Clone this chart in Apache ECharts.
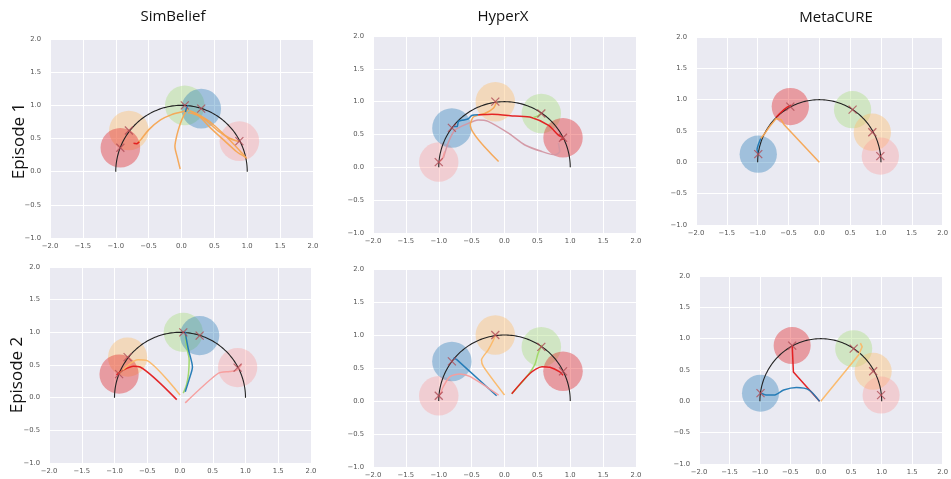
<!DOCTYPE html>
<html><head><meta charset="utf-8">
<script src="https://cdn.jsdelivr.net/npm/echarts@6/dist/echarts.min.js"></script>
<style>html,body{margin:0;padding:0;background:#fff}#c{width:951px;height:479px}</style>
</head><body><div id="c"></div>
<script>
// ---------- text ----------
const methodTitles = ['SimBelief', 'HyperX', 'MetaCURE'];
const rowLabels = ['Episode 1', 'Episode 2'];

// ---------- axes ----------
const xRange = [-2, 2];
const yRange = [-1, 2];
const tickStep = 0.5;

// ---------- reference semicircle (centre x, centre y, radius) ----------
const arcCircle = [0, 0, 1];
const goalRadius = 0.3;

// ---------- goals (centre of each circle / x marker) ----------
const simBeliefGoals = [[-0.80, 0.62], [-0.93, 0.36], [0.05, 1.00], [0.30, 0.95], [0.88, 0.46]];
const simBeliefGoalColors = ['orange', 'red', 'green', 'blue', 'pink'];
const hyperXGoals = [[-1.00, 0.08], [-0.80, 0.60], [-0.14, 1.00], [0.56, 0.82], [0.89, 0.45]];
const hyperXGoalColors = ['pink', 'blue', 'orange', 'green', 'red'];
const metaCureGoals = [[-0.99, 0.13], [-0.47, 0.89], [0.54, 0.84], [0.86, 0.48], [0.99, 0.10]];
const metaCureGoalColors = ['blue', 'red', 'green', 'orange', 'pink'];

// ---------- trajectories: SimBelief, episode 1 ----------
const sb1OrangeA = [[-0.02, 0.04], [-0.06, 0.20], [-0.10, 0.38], [-0.07, 0.55], [-0.02, 0.72], [0.04, 0.86], [0.09, 0.95]];
const sb1OrangeB = [[0.10, 0.93], [0.00, 0.90], [-0.15, 0.86], [-0.32, 0.78], [-0.50, 0.63], [-0.62, 0.48], [-0.67, 0.43]];
const sb1Red = [[-0.64, 0.45], [-0.68, 0.42], [-0.73, 0.43]];
const sb1OrangeC = [[0.12, 0.92], [0.24, 0.87], [0.46, 0.73], [0.71, 0.50], [0.92, 0.28], [0.99, 0.20]];
const sb1OrangeD = [[0.10, 0.89], [0.26, 0.84], [0.44, 0.66], [0.66, 0.46], [0.84, 0.30], [0.97, 0.22]];
const sb1OrangeE = [[0.14, 0.91], [0.34, 0.80], [0.55, 0.62], [0.74, 0.50], [0.88, 0.45]];
const sb1Blue = [[0.06, 0.90], [0.08, 0.97], [0.10, 1.00]];

// ---------- trajectories: HyperX, episode 1 ----------
const hx1Orange = [[-0.09, 0.09], [-0.52, 0.64], [-0.47, 0.77], [-0.30, 0.82], [-0.17, 0.90], [-0.12, 1.00]];
const hx1Blue = [[-0.78, 0.62], [-0.72, 0.62], [-0.70, 0.70], [-0.62, 0.72], [-0.55, 0.74], [-0.50, 0.79], [-0.40, 0.80]];
const hx1Red = [[-0.40, 0.80], [-0.19, 0.81], [0.16, 0.78], [0.41, 0.76], [0.67, 0.64], [0.82, 0.49], [0.90, 0.44], [0.85, 0.42]];
const hx1Mauve = [[-0.93, 0.14], [-0.85, 0.39], [-0.75, 0.57], [-0.55, 0.67], [-0.40, 0.72], [-0.25, 0.70], [0.06, 0.52], [0.31, 0.34], [0.57, 0.24], [0.77, 0.19], [0.84, 0.24], [0.82, 0.37]];
const hx1Pink = [[-1.00, 0.08], [-0.95, 0.12], [-0.91, 0.24]];
const hx1Green = [[0.44, 0.76], [0.50, 0.78], [0.55, 0.82]];

// ---------- trajectories: MetaCURE, episode 1 ----------
const mc1Orange = [[0.00, 0.00], [-0.57, 0.60], [-0.62, 0.68], [-0.70, 0.70], [-0.80, 0.58], [-0.90, 0.44], [-0.95, 0.38]];
const mc1Red = [[-0.70, 0.72], [-0.62, 0.80], [-0.52, 0.88], [-0.46, 0.91]];
const mc1Blue = [[-0.95, 0.38], [-0.99, 0.28], [-1.01, 0.20], [-0.99, 0.14]];

// ---------- trajectories: SimBelief, episode 2 ----------
const sb2Red = [[-0.05, -0.03], [-0.61, 0.47], [-0.71, 0.48], [-0.87, 0.42], [-0.97, 0.35]];
const sb2Orange = [[0.00, 0.04], [-0.51, 0.57], [-0.64, 0.58], [-0.79, 0.50], [-0.92, 0.37]];
const sb2Green = [[0.05, 0.07], [0.10, 0.20], [0.13, 0.37], [0.14, 0.58], [0.10, 0.78], [0.08, 0.96]];
const sb2Blue = [[0.08, 0.09], [0.14, 0.28], [0.19, 0.47], [0.13, 0.73], [0.10, 0.88], [0.08, 1.01]];
const sb2Pink = [[0.08, -0.08], [0.58, 0.37], [0.76, 0.40], [0.87, 0.42], [0.94, 0.51]];

// ---------- trajectories: HyperX, episode 2 ----------
const hx2Blue = [[-0.12, 0.08], [-0.73, 0.63], [-0.78, 0.65]];
const hx2Pink = [[-0.09, 0.09], [-0.52, 0.37], [-0.68, 0.41], [-0.83, 0.37], [-0.93, 0.22], [-0.98, 0.09]];
const hx2Orange = [[0.00, 0.09], [-0.32, 0.52], [-0.35, 0.62], [-0.25, 0.77], [-0.17, 0.92], [-0.14, 1.00]];
const hx2Green = [[0.11, 0.11], [0.34, 0.37], [0.46, 0.55], [0.51, 0.72], [0.57, 0.85]];
const hx2Red = [[0.11, 0.11], [0.39, 0.42], [0.57, 0.52], [0.69, 0.51], [0.84, 0.44], [0.89, 0.39]];

// ---------- trajectories: MetaCURE, episode 2 ----------
const mc2Red = [[-0.02, 0.00], [-0.45, 0.47], [-0.47, 0.90]];
const mc2Blue = [[-0.02, 0.00], [-0.19, 0.18], [-0.40, 0.22], [-0.61, 0.18], [-0.77, 0.10], [-0.90, 0.10], [-0.98, 0.13]];
const mc2Orange = [[0.00, 0.00], [0.62, 0.74], [0.68, 0.87], [0.65, 0.93]];

// ---------- styling ----------
const circleColors = { red: 'rgba(227,26,28,0.38)', orange: 'rgba(253,191,111,0.42)', green: 'rgba(178,223,138,0.45)', blue: 'rgba(31,120,180,0.36)', pink: 'rgba(251,154,153,0.36)' };
const lineColors = { red: '#e31a1c', orange: '#f6a552', lorange: '#fbb867', green: '#9ed766', blue: '#1f78b4', pink: '#f79c9b', mauve: '#d397a3' };
const markerColor = 'rgba(175,75,85,0.8)';

const gridBoxes = [
  { left: 50, top: 39, width: 263, height: 199 },
  { left: 373, top: 36, width: 263, height: 197 },
  { left: 696, top: 37, width: 254, height: 188 },
  { left: 49, top: 267, width: 262, height: 196 },
  { left: 373, top: 269, width: 263, height: 198 },
  { left: 699, top: 276, width: 253, height: 188 }
];

const panelGoals = [
  [simBeliefGoals, simBeliefGoalColors], [hyperXGoals, hyperXGoalColors], [metaCureGoals, metaCureGoalColors],
  [simBeliefGoals, simBeliefGoalColors], [hyperXGoals, hyperXGoalColors], [metaCureGoals, metaCureGoalColors]
];
// [data, colour key, smooth]
const panelPaths = [
  [[sb1OrangeA, 'orange', true], [sb1OrangeB, 'orange', true], [sb1OrangeC, 'orange', true], [sb1OrangeD, 'orange', true], [sb1OrangeE, 'orange', true], [sb1Red, 'red', false], [sb1Blue, 'blue', true]],
  [[hx1Mauve, 'mauve', true], [hx1Pink, 'pink', true], [hx1Orange, 'orange', true], [hx1Blue, 'blue', true], [hx1Red, 'red', true], [hx1Green, 'green', true]],
  [[mc1Orange, 'orange', false], [mc1Red, 'red', true], [mc1Blue, 'blue', true]],
  [[sb2Red, 'red', true], [sb2Orange, 'lorange', true], [sb2Green, 'green', true], [sb2Blue, 'blue', true], [sb2Pink, 'pink', true]],
  [[hx2Blue, 'blue', false], [hx2Pink, 'pink', true], [hx2Orange, 'lorange', true], [hx2Green, 'green', true], [hx2Red, 'red', true]],
  [[mc2Red, 'red', false], [mc2Blue, 'blue', true], [mc2Orange, 'lorange', false]]
];

const fmt = v => v.toFixed(1).replace('-', '\u2212');
const grid = [], xAxis = [], yAxis = [], series = [];
gridBoxes.forEach((b, i) => {
  grid.push(Object.assign({ show: true, backgroundColor: '#EAEAF2', borderWidth: 0, containLabel: false }, b));
  const common = {
    gridIndex: i, type: 'value', interval: tickStep,
    axisLine: { show: false }, axisTick: { show: false },
    splitLine: { show: true, lineStyle: { color: '#ffffff', width: 1 } },
    axisLabel: { fontSize: 6.8, color: '#555', fontFamily: 'DejaVu Sans', formatter: fmt, showMinLabel: true, showMaxLabel: true }
  };
  xAxis.push(Object.assign({}, common, { min: xRange[0], max: xRange[1], axisLabel: Object.assign({}, common.axisLabel, { margin: 5 }) }));
  yAxis.push(Object.assign({}, common, { min: yRange[0], max: yRange[1], axisLabel: Object.assign({}, common.axisLabel, { margin: 9 }) }));

  const [goals, gcols] = panelGoals[i];
  // goal circles
  series.push({
    type: 'custom', xAxisIndex: i, yAxisIndex: i, z: 2, silent: true,
    data: goals.map((g, k) => [g[0], g[1], k]),
    renderItem: (params, api) => {
      const c = api.coord([api.value(0), api.value(1)]);
      const s = api.size([goalRadius, goalRadius]);
      return { type: 'circle', shape: { cx: c[0], cy: c[1], r: (s[0] + s[1]) / 2 }, style: { fill: circleColors[gcols[api.value(2)]] } };
    }
  });
  // semicircle
  series.push({
    type: 'custom', xAxisIndex: i, yAxisIndex: i, z: 3, silent: true,
    data: [arcCircle],
    renderItem: (params, api) => {
      const cx = api.value(0), cy = api.value(1), r = api.value(2);
      const pts = [];
      for (let k = 0; k <= 120; k++) {
        const t = Math.PI * k / 120;
        pts.push(api.coord([cx + r * Math.cos(t), cy + r * Math.sin(t)]));
      }
      return { type: 'polyline', shape: { points: pts }, style: { stroke: '#222', lineWidth: 1.1, fill: null } };
    }
  });
  // trajectories
  panelPaths[i].forEach(([d, col, sm]) => {
    series.push({
      type: 'line', xAxisIndex: i, yAxisIndex: i, z: 4, silent: true,
      data: d, showSymbol: false, smooth: sm ? 0.25 : false,
      lineStyle: { color: lineColors[col], width: 1.5, opacity: 0.95 }
    });
  });
  // x markers
  series.push({
    type: 'custom', xAxisIndex: i, yAxisIndex: i, z: 5, silent: true,
    data: goals.map(g => [g[0], g[1]]),
    renderItem: (params, api) => {
      const c = api.coord([api.value(0), api.value(1)]);
      const h = 4;
      const st = { stroke: markerColor, lineWidth: 1.2 };
      return { type: 'group', children: [
        { type: 'line', shape: { x1: c[0] - h, y1: c[1] - h, x2: c[0] + h, y2: c[1] + h }, style: st },
        { type: 'line', shape: { x1: c[0] - h, y1: c[1] + h, x2: c[0] + h, y2: c[1] - h }, style: st }
      ] };
    }
  });
});

const titleCenters = [[173, 17], [503, 17], [836, 18]];
const rowCenters = [[19, 141], [17, 375]];
const graphic = [];
methodTitles.forEach((t, i) => graphic.push({
  type: 'text', x: titleCenters[i][0], y: titleCenters[i][1],
  style: { text: t, fontSize: 15, fontFamily: 'Open Sans', fill: '#111', align: 'center', verticalAlign: 'middle' }
}));
rowLabels.forEach((t, i) => graphic.push({
  type: 'text', x: rowCenters[i][0], y: rowCenters[i][1], rotation: Math.PI / 2,
  style: { text: t, fontSize: 17, fontFamily: 'Open Sans', fill: '#111', align: 'center', verticalAlign: 'middle' }
}));

const chart = echarts.init(document.getElementById('c'), null, { renderer: 'canvas' });
chart.setOption({ animation: false, backgroundColor: '#ffffff', grid, xAxis, yAxis, series, graphic });
</script>
</body></html>
